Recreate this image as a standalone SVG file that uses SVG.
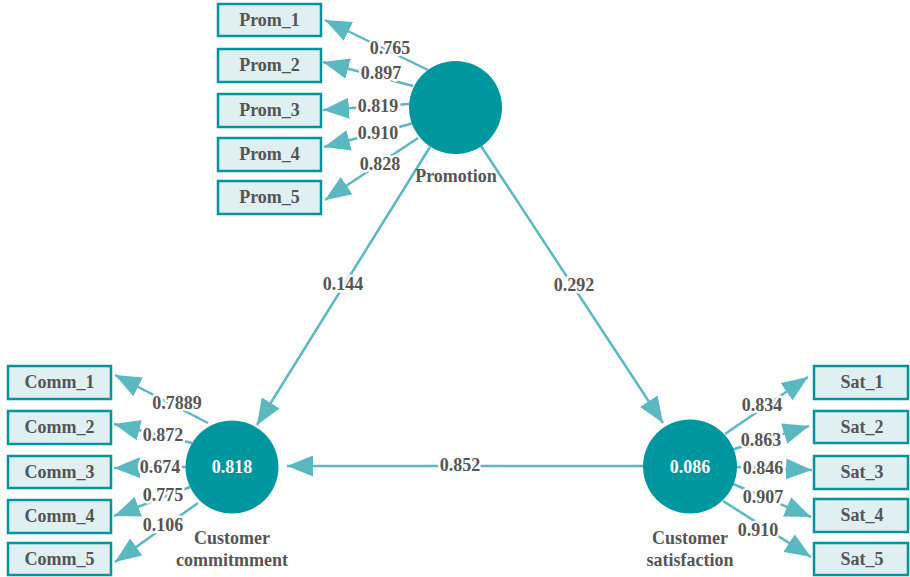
<svg xmlns="http://www.w3.org/2000/svg" width="910" height="577" viewBox="0 0 910 577">
<style>
text{font-family:"Liberation Serif","Times New Roman","DejaVu Serif",serif;font-weight:bold;font-size:18px;text-anchor:middle}
.box{fill:#DFEFF2;stroke:#00959F;stroke-width:2.5}
.circ{fill:#0096A0}
.bt{fill:#555555}
.lb{fill:#555555;stroke:#ffffff;stroke-width:5;paint-order:stroke;stroke-linejoin:round}
.nl{fill:#555555}
.cv{fill:#ffffff}
.ar{stroke:#5BB8C0;stroke-width:2.5;fill:none;marker-end:url(#ah)}
</style>
<defs>
<marker id="ah" markerUnits="userSpaceOnUse" markerWidth="27" markerHeight="21" refX="26" refY="10.5" orient="auto">
<path d="M0,0 L26,10.5 L0,21 Z" fill="#5BB8C0"/>
</marker>
</defs>
<g id="connectors">
<line class="ar" x1="428" y1="70" x2="325" y2="20"/>
<line class="ar" x1="413" y1="86" x2="323" y2="62"/>
<line class="ar" x1="409" y1="104" x2="323" y2="110"/>
<line class="ar" x1="414" y1="123" x2="324" y2="147"/>
<line class="ar" x1="418" y1="138" x2="325" y2="200"/>
<line class="ar" x1="208" y1="423" x2="115" y2="375"/>
<line class="ar" x1="192" y1="443" x2="114" y2="424"/>
<line class="ar" x1="186" y1="467" x2="114" y2="468"/>
<line class="ar" x1="190" y1="487" x2="114" y2="516"/>
<line class="ar" x1="198" y1="503" x2="115" y2="562"/>
<line class="ar" x1="725" y1="434" x2="808" y2="377"/>
<line class="ar" x1="731" y1="450" x2="809" y2="426"/>
<line class="ar" x1="737" y1="467" x2="812" y2="470"/>
<line class="ar" x1="733" y1="484" x2="811" y2="517"/>
<line class="ar" x1="723" y1="501" x2="811" y2="557"/>
<line class="ar" x1="430" y1="147" x2="257" y2="425"/>
<line class="ar" x1="481" y1="146" x2="663" y2="423"/>
<line class="ar" x1="643" y1="466" x2="287" y2="466"/>
<text class="lb" x="390" y="54">0.765</text>
<text class="lb" x="381" y="79">0.897</text>
<text class="lb" x="378" y="112">0.819</text>
<text class="lb" x="378" y="139">0.910</text>
<text class="lb" x="380" y="170">0.828</text>
<text class="lb" x="177" y="409">0.7889</text>
<text class="lb" x="163" y="441">0.872</text>
<text class="lb" x="160" y="473">0.674</text>
<text class="lb" x="163" y="501">0.775</text>
<text class="lb" x="163" y="531">0.106</text>
<text class="lb" x="762" y="411">0.834</text>
<text class="lb" x="761" y="446">0.863</text>
<text class="lb" x="763" y="474">0.846</text>
<text class="lb" x="763" y="503">0.907</text>
<text class="lb" x="758" y="536">0.910</text>
<text class="lb" x="343" y="290">0.144</text>
<text class="lb" x="574" y="291">0.292</text>
<text class="lb" x="460" y="471">0.852</text>
</g>
<g id="promotion">
<circle class="circ" cx="455.5" cy="107.5" r="46.5"/>
<text class="nl" x="456" y="182">Promotion</text>
</g>
<g id="commitment">
<circle class="circ" cx="232" cy="467" r="46.5"/>
<text class="cv" x="232" y="473">0.818</text>
<text class="nl" x="232" y="544">Customer</text>
<text class="nl" x="232" y="566">commitmment</text>
</g>
<g id="satisfaction">
<circle class="circ" cx="690" cy="466.5" r="47"/>
<text class="cv" x="690" y="473">0.086</text>
<text class="nl" x="690" y="544">Customer</text>
<text class="nl" x="690" y="566">satisfaction</text>
</g>
<g id="prom1"><rect class="box" x="218" y="4" width="103" height="32"/><text class="bt" x="269.5" y="26">Prom_1</text></g>
<g id="prom2"><rect class="box" x="218" y="49" width="103" height="33"/><text class="bt" x="269.5" y="71">Prom_2</text></g>
<g id="prom3"><rect class="box" x="218" y="94" width="103" height="33"/><text class="bt" x="269.5" y="116">Prom_3</text></g>
<g id="prom4"><rect class="box" x="218" y="138" width="103" height="33"/><text class="bt" x="269.5" y="160">Prom_4</text></g>
<g id="prom5"><rect class="box" x="218" y="181" width="103" height="33"/><text class="bt" x="269.5" y="203">Prom_5</text></g>
<g id="comm1"><rect class="box" x="8" y="366" width="103" height="33"/><text class="bt" x="59.5" y="388">Comm_1</text></g>
<g id="comm2"><rect class="box" x="8" y="411" width="103" height="33"/><text class="bt" x="59.5" y="433">Comm_2</text></g>
<g id="comm3"><rect class="box" x="8" y="456" width="103" height="32"/><text class="bt" x="59.5" y="478">Comm_3</text></g>
<g id="comm4"><rect class="box" x="8" y="500" width="103" height="33"/><text class="bt" x="59.5" y="522">Comm_4</text></g>
<g id="comm5"><rect class="box" x="8" y="543" width="103" height="32"/><text class="bt" x="59.5" y="565">Comm_5</text></g>
<g id="sat1"><rect class="box" x="814" y="366" width="94" height="33"/><text class="bt" x="862" y="388">Sat_1</text></g>
<g id="sat2"><rect class="box" x="814" y="411" width="94" height="32"/><text class="bt" x="862" y="433">Sat_2</text></g>
<g id="sat3"><rect class="box" x="814" y="456" width="94" height="33"/><text class="bt" x="862" y="478">Sat_3</text></g>
<g id="sat4"><rect class="box" x="814" y="499" width="94" height="33"/><text class="bt" x="862" y="521">Sat_4</text></g>
<g id="sat5"><rect class="box" x="814" y="543" width="94" height="32"/><text class="bt" x="862" y="565">Sat_5</text></g>
</svg>
